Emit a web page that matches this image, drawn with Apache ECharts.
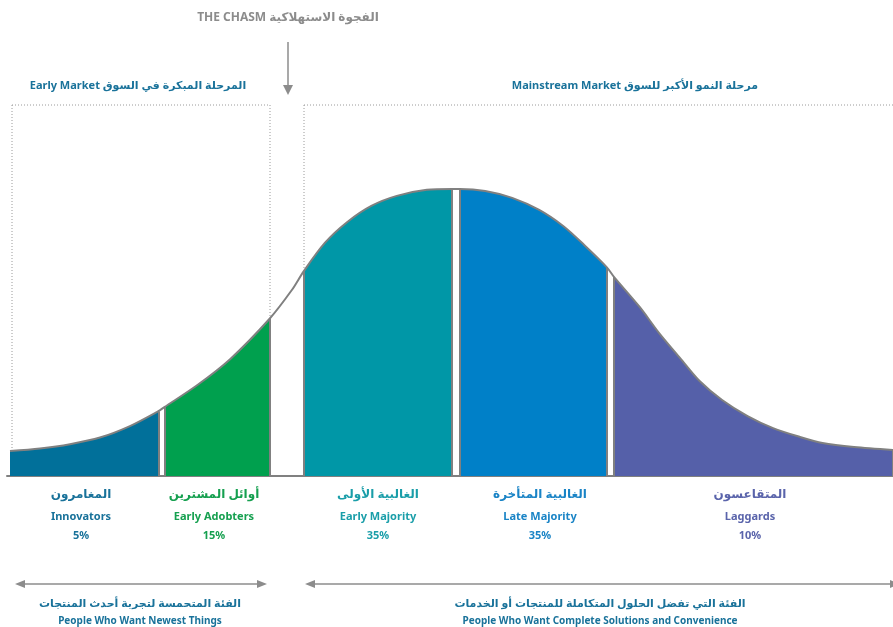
<!DOCTYPE html>
<html>
<head>
<meta charset="utf-8">
<script src="https://cdn.jsdelivr.net/npm/echarts@6/dist/echarts.min.js"></script>
<style>
  html, body { margin: 0; padding: 0; background: #fff; }
  #main { width: 893px; height: 627px; }
</style>
</head>
<body>
<div id="main"></div>
<script>
// bell curve: position in std deviations, height as % of peak
const curveS = [-2.98, -2.78, -2.58, -2.38, -2.18, -1.99, -1.95, -1.73, -1.51, -1.25, -1.10, -1.02,
  -0.88, -0.73, -0.57, -0.40, -0.20, -0.03, 0.02, 0.19, 0.37, 0.55, 0.71, 0.85, 1.00, 1.05,
  1.22, 1.35, 1.49, 1.62, 1.77, 1.94, 2.11, 2.29, 2.44, 2.65, 2.91];
const curveH = [8.7, 9.6, 11.1, 13.4, 17.4, 22.6, 24.0, 31.7, 40.8, 54.7, 64.8, 71.4,
  81.2, 88.5, 94.1, 97.6, 99.7, 100, 100, 99.3, 96.9, 92.7, 87.1, 80.5, 72.8, 69.3,
  58.9, 49.8, 41.1, 33.1, 26.5, 20.9, 16.7, 13.6, 11.5, 10.1, 9.1];

// adopter groups
const segEn = ['Innovators', 'Early Adobters', 'Early Majority', 'Late Majority', 'Laggards'];
const segAr = ['المغامرون', 'أوائل المشترين', 'الغالبية الأولى', 'الغالبية المتأخرة', 'المتقاعسون'];
const segPct = ['5%', '15%', '35%', '35%', '10%'];
const segStart = [-2.98, -1.95, -1.02, 0.02, 1.05];
const segEnd = [-1.99, -1.25, -0.03, 1.00, 2.91];

const segColors = ['#01709a', '#00a04e', '#0097a7', '#0080c8', '#5560a9'];
const segTextColors = ['#19729a', '#16a050', '#1a9ea9', '#1a84c6', '#5a64ab'];
const labelX = [81, 214, 378, 540, 750];
const gray = '#808080';
const blue = '#19729a';

function heightAt(s) {
  return curveH[curveS.findIndex(v => Math.abs(v - s) < 1e-9)];
}

const allPts = curveS.map((s, i) => [s, curveH[i]]);

const series = segStart.map((st, i) => {
  const en = segEnd[i];
  const pts = allPts.filter(p => p[0] >= st - 1e-9 && p[0] <= en + 1e-9);
  const edges = [];
  if (i > 0) edges.push([{ coord: [st, 0] }, { coord: [st, heightAt(st)] }]);
  edges.push([{ coord: [en, 0] }, { coord: [en, heightAt(en)] }]);
  return {
    type: 'line',
    data: pts,
    smooth: 0.3,
    symbol: 'none',
    silent: true,
    z: 2,
    lineStyle: { width: 0 },
    areaStyle: { color: segColors[i], opacity: 1 },
    markLine: {
      silent: true,
      symbol: ['none', 'none'],
      label: { show: false },
      lineStyle: { color: gray, type: 'solid', width: 2 },
      data: edges
    }
  };
});

series.push({
  type: 'line',
  data: allPts,
  smooth: 0.3,
  symbol: 'none',
  silent: true,
  z: 3,
  lineStyle: { color: gray, width: 2 }
});

const font = '"Noto Sans", "DejaVu Sans", sans-serif';
function txt(text, x, y, size, color) {
  return {
    type: 'text',
    z: 10,
    style: {
      text: text, x: x, y: y,
      textAlign: 'center', textVerticalAlign: 'middle',
      align: 'center', verticalAlign: 'middle',
      fontSize: size, fontWeight: 'bold', fontFamily: font, fill: color
    }
  };
}
function line(x1, y1, x2, y2, dotted) {
  return {
    type: 'line', z: 1, silent: true,
    shape: { x1: x1, y1: y1, x2: x2, y2: y2 },
    style: dotted
      ? { stroke: '#9a9a9a', lineWidth: 1, lineDash: [1, 2] }
      : { stroke: '#8c8c8c', lineWidth: 1.5 }
  };
}
function head(points) {
  return { type: 'polygon', z: 1, shape: { points: points }, style: { fill: '#8c8c8c' } };
}

const graphics = [];
// dotted market boxes
graphics.push(line(12, 105, 270, 105, true));
graphics.push(line(12, 105, 12, 476, true));
graphics.push(line(270, 105, 270, 476, true));
graphics.push(line(304, 105, 893, 105, true));
graphics.push(line(304, 105, 304, 476, true));
// chasm arrow
graphics.push(line(288, 42, 288, 86));
graphics.push(head([[283, 85], [293, 85], [288, 95]]));
// bottom arrows
graphics.push(line(22, 584, 260, 584));
graphics.push(head([[15, 584], [25, 580], [25, 588]]));
graphics.push(head([[267, 584], [257, 580], [257, 588]]));
graphics.push(line(312, 584, 893, 584));
graphics.push(head([[305, 584], [315, 580], [315, 588]]));
graphics.push(head([[900, 584], [890, 580], [890, 588]]));

// titles
graphics.push(txt('THE CHASM الفجوة الاستهلاكية', 288, 18, 12, '#8c8c8c'));
graphics.push(txt('Early Market المرحلة المبكرة في السوق', 138, 86, 11, blue));
graphics.push(txt('Mainstream Market مرحلة النمو الأكبر للسوق', 635, 86, 11, blue));

// group labels
segEn.forEach((name, i) => {
  graphics.push(txt(segAr[i], labelX[i], 495, 12, segTextColors[i]));
  graphics.push(txt(name, labelX[i], 517, 11, segTextColors[i]));
  graphics.push(txt(segPct[i], labelX[i], 536, 11, segTextColors[i]));
});

// bottom captions
graphics.push(txt('الفئة المتحمسة لتجربة أحدث المنتجات', 140, 604, 11, blue));
graphics.push(txt('People Who Want Newest Things', 140, 621, 10, blue));
graphics.push(txt('الفئة التي تفضل الحلول المتكاملة للمنتجات أو الخدمات', 600, 604, 11, blue));
graphics.push(txt('People Who Want Complete Solutions and Convenience', 600, 621, 10, blue));

const chart = echarts.init(document.getElementById('main'));
chart.setOption({
  animation: false,
  backgroundColor: '#fff',
  grid: { left: 7, right: 0, top: 131.6, bottom: 151 },
  xAxis: {
    type: 'value', min: -3, max: 2.91,
    axisLine: { show: true, lineStyle: { color: gray, width: 2 } },
    axisTick: { show: false }, axisLabel: { show: false }, splitLine: { show: false }
  },
  yAxis: { type: 'value', min: 0, max: 120, show: false },
  series: series,
  graphic: { elements: graphics }
});
</script>
</body>
</html>
